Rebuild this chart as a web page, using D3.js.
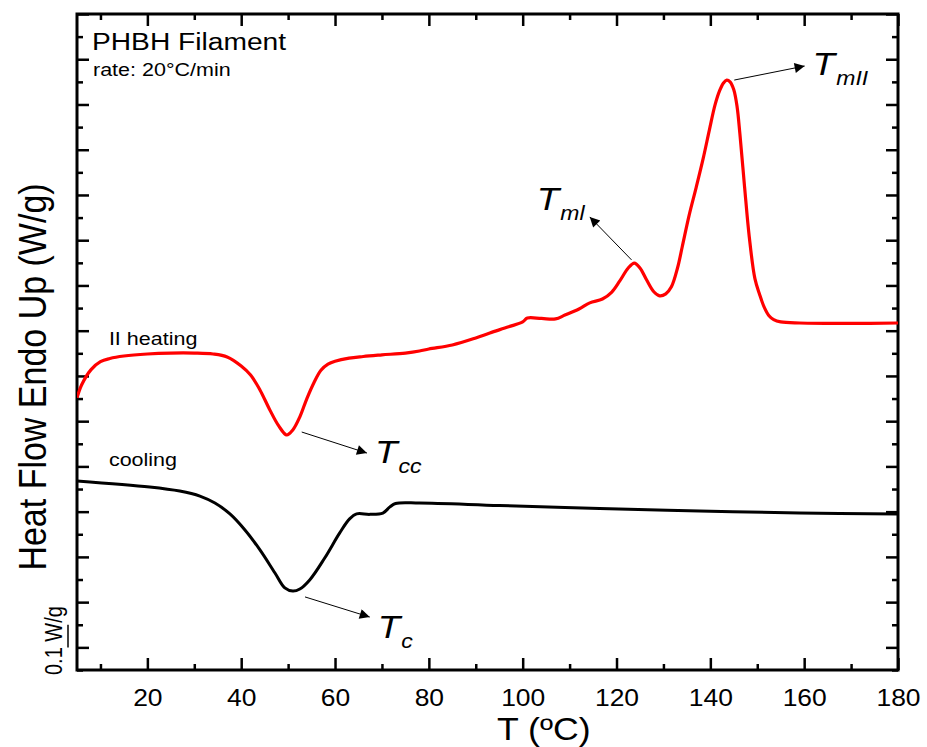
<!DOCTYPE html>
<html>
<head>
<meta charset="utf-8">
<script src="https://cdn.jsdelivr.net/npm/d3@7"></script>
<style>
  body { margin: 0; background: #fff; }
  text { font-family: "Liberation Sans", Arial, sans-serif; fill: #000; }
</style>
</head>
<body>
<div id="chart"></div>
<script>
// II heating curve (T in °C, heat flow in W/g, arbitrary offset)
var heatT = [5, 6, 8, 10, 12, 15, 20, 25, 30, 34, 37, 40, 42, 44, 46, 48, 49.7, 51, 52.5, 54, 55.5, 57, 58.5, 60, 63, 66, 70, 75, 78, 80, 85, 90, 93, 97, 100, 101, 104, 107, 109, 112, 114.3, 117, 119, 120.7, 122.5, 123.8, 125, 126.4, 128, 129.2, 130.5, 131.7, 133, 134, 135.5, 137, 138.5, 139.8, 141, 142, 142.8, 143.5, 144.2, 145, 145.7, 146.3, 147.3, 148.3, 149.5, 150.5, 151.5, 152.5, 153.5, 155, 159, 170, 180];
var heatV = [1.103, 1.161, 1.228, 1.263, 1.277, 1.288, 1.297, 1.301, 1.301, 1.297, 1.284, 1.244, 1.204, 1.138, 1.054, 0.979, 0.939, 0.961, 1.019, 1.100, 1.170, 1.225, 1.252, 1.265, 1.279, 1.286, 1.293, 1.301, 1.310, 1.319, 1.337, 1.368, 1.390, 1.417, 1.439, 1.456, 1.454, 1.452, 1.469, 1.496, 1.523, 1.540, 1.571, 1.620, 1.677, 1.699, 1.677, 1.625, 1.571, 1.554, 1.563, 1.594, 1.677, 1.770, 1.912, 2.035, 2.164, 2.288, 2.398, 2.462, 2.495, 2.508, 2.500, 2.465, 2.390, 2.270, 2.035, 1.814, 1.630, 1.560, 1.503, 1.466, 1.449, 1.439, 1.434, 1.432, 1.434];

// cooling curve
var coolT = [5, 20.5, 26.9, 31.2, 34.4, 37.6, 40.8, 44, 47.2, 49.3, 51, 52.5, 54.6, 57.8, 61, 63.1, 64.6, 67.4, 70.2, 71.7, 72.9, 78, 95, 116.4, 137.7, 159, 180];
var coolV = [0.736, 0.709, 0.691, 0.669, 0.638, 0.590, 0.519, 0.431, 0.329, 0.263, 0.249, 0.258, 0.298, 0.395, 0.506, 0.568, 0.590, 0.588, 0.594, 0.621, 0.636, 0.638, 0.627, 0.614, 0.603, 0.594, 0.590];

var xMajorTicks = [20, 40, 60, 80, 100, 120, 140, 160, 180];
var xMinorTicks = [10, 30, 50, 70, 90, 110, 130, 150, 170];
var yMajorTicks = d3.range(0, 2.81, 0.2);
var yMinorTicks = d3.range(-0.1, 2.75, 0.2);

// annotations: arrow start / tip, label position (data coords)
var annotations = [
  {main: "T", sub: "cc", from: [52.9, 0.952], to: [66.8, 0.859], at: [68.5, 0.815]},
  {main: "T", sub: "c", from: [53.6, 0.223], to: [67.4, 0.134], at: [69.1, 0.041]},
  {main: "T", sub: "ml", from: [123.2, 1.713], to: [114.3, 1.903], at: [103.0, 1.934]},
  {main: "T", sub: "mII", from: [145.1, 2.508], to: [160.1, 2.570], at: [161.8, 2.530]}
];
var curveLabels = [
  {text: "II heating", at: [11.8, 1.336]},
  {text: "cooling", at: [11.8, 0.802]}
];

var W = 927, H = 747;
var MARGIN = {top: 14, right: 29, bottom: 77, left: 77},
    WIDTH = W - MARGIN.left - MARGIN.right,
    HEIGHT = H - MARGIN.top - MARGIN.bottom;
var SX = 1.15; // glyphs in the original are a bit wider than tall

var svg = d3.select("#chart").append("svg")
  .attr("width", W).attr("height", H);

svg.append("defs").append("marker")
  .attr("id", "arrow")
  .attr("viewBox", "0 0 10 10")
  .attr("refX", 10).attr("refY", 5)
  .attr("markerWidth", 17).attr("markerHeight", 10)
  .attr("markerUnits", "userSpaceOnUse")
  .attr("orient", "auto")
  .append("path").attr("d", "M0,0 L10,5 L0,10 Z").attr("fill", "#000");

svg.append("clipPath").attr("id", "clip")
  .append("rect").attr("width", WIDTH).attr("height", HEIGHT);

var g = svg.append("g")
  .attr("transform", "translate(" + MARGIN.left + "," + MARGIN.top + ")");

var x = d3.scaleLinear().domain([5, 180]).range([0, WIDTH]);
var y = d3.scaleLinear().domain([-0.1, 2.8]).range([HEIGHT, 0]);

function styleAxis(sel) {
  sel.select(".domain").remove();
  sel.selectAll(".tick line").attr("stroke", "#000").attr("stroke-width", 2.5);
}

// x axes (bottom with labels, top without)
g.append("g").attr("transform", "translate(0," + HEIGHT + ")")
  .call(d3.axisBottom(x).tickValues(xMajorTicks).tickSizeInner(-12).tickSizeOuter(0).tickPadding(20))
  .call(styleAxis)
  .selectAll("text")
    .attr("font-size", 23)
    .attr("font-family", "Liberation Sans, Arial, sans-serif")
    .attr("transform", "scale(" + SX + ",1)");
g.append("g").attr("transform", "translate(0," + HEIGHT + ")")
  .call(d3.axisBottom(x).tickValues(xMinorTicks).tickSizeInner(-6).tickSizeOuter(0).tickFormat(""))
  .call(styleAxis);
g.append("g")
  .call(d3.axisTop(x).tickValues(xMajorTicks).tickSizeInner(-12).tickSizeOuter(0).tickFormat(""))
  .call(styleAxis);
g.append("g")
  .call(d3.axisTop(x).tickValues(xMinorTicks).tickSizeInner(-6).tickSizeOuter(0).tickFormat(""))
  .call(styleAxis);

// y axes, no labels
g.append("g")
  .call(d3.axisLeft(y).tickValues(yMajorTicks).tickSizeInner(-12).tickSizeOuter(0).tickFormat(""))
  .call(styleAxis);
g.append("g")
  .call(d3.axisLeft(y).tickValues(yMinorTicks).tickSizeInner(-6).tickSizeOuter(0).tickFormat(""))
  .call(styleAxis);
g.append("g").attr("transform", "translate(" + WIDTH + ",0)")
  .call(d3.axisRight(y).tickValues(yMajorTicks).tickSizeInner(-12).tickSizeOuter(0).tickFormat(""))
  .call(styleAxis);
g.append("g").attr("transform", "translate(" + WIDTH + ",0)")
  .call(d3.axisRight(y).tickValues(yMinorTicks).tickSizeInner(-6).tickSizeOuter(0).tickFormat(""))
  .call(styleAxis);

// frame
g.append("rect")
  .attr("width", WIDTH).attr("height", HEIGHT)
  .attr("fill", "none").attr("stroke", "#000").attr("stroke-width", 3);

// curves
var line = d3.line()
  .x(function(d) { return x(d[0]); })
  .y(function(d) { return y(d[1]); })
  .curve(d3.curveCatmullRom.alpha(0.5));

var plot = g.append("g").attr("clip-path", "url(#clip)");
plot.append("path")
  .datum(d3.zip(coolT, coolV))
  .attr("d", line)
  .attr("fill", "none").attr("stroke", "#000").attr("stroke-width", 3);
plot.append("path")
  .datum(d3.zip(heatT, heatV))
  .attr("d", line)
  .attr("fill", "none").attr("stroke", "#ff0000").attr("stroke-width", 3.2);

// curve labels
curveLabels.forEach(function(c) {
  g.append("text")
    .attr("transform", "translate(" + x(c.at[0]) + "," + y(c.at[1]) + ") scale(" + SX + ",1)")
    .attr("font-size", 18.7)
    .text(c.text);
});

// annotations
annotations.forEach(function(a) {
  g.append("line")
    .attr("x1", x(a.from[0])).attr("y1", y(a.from[1]))
    .attr("x2", x(a.to[0])).attr("y2", y(a.to[1]))
    .attr("stroke", "#000").attr("stroke-width", 1)
    .attr("marker-end", "url(#arrow)");
  var t = g.append("text")
    .attr("transform", "translate(" + x(a.at[0]) + "," + y(a.at[1]) + ") scale(" + SX + ",1)")
    .attr("font-style", "italic")
    .attr("font-size", 32);
  t.append("tspan").text(a.main);
  t.append("tspan").attr("font-size", 20).attr("dy", 10).attr("dx", 1).text(a.sub);
});

// title block
svg.append("text")
  .attr("transform", "translate(92,50) scale(" + SX + ",1)")
  .attr("font-size", 24.5)
  .text("PHBH Filament");
svg.append("text")
  .attr("transform", "translate(93,76) scale(" + SX + ",1)")
  .attr("font-size", 18.7)
  .text("rate: 20°C/min");

// axis titles
svg.append("text")
  .attr("transform", "translate(" + (MARGIN.left + x(104.5)) + ",740) scale(" + SX + ",1)")
  .attr("text-anchor", "middle")
  .attr("font-size", 31)
  .text("T (ºC)");
svg.append("text")
  .attr("transform", "translate(46,377) scale(" + SX + ",1) rotate(-90)")
  .attr("text-anchor", "middle")
  .attr("font-size", 34)
  .text("Heat Flow Endo Up (W/g)");

// 0.1 W/g scale bar
svg.append("text")
  .attr("transform", "translate(62,675) scale(" + SX + ",1) rotate(-90)")
  .attr("font-size", 20)
  .text("0.1 W/g");
svg.append("line")
  .attr("x1", 68).attr("x2", 68)
  .attr("y1", MARGIN.top + y(0)).attr("y2", MARGIN.top + y(0.1))
  .attr("stroke", "#000").attr("stroke-width", 1.5);
</script>
</body>
</html>
